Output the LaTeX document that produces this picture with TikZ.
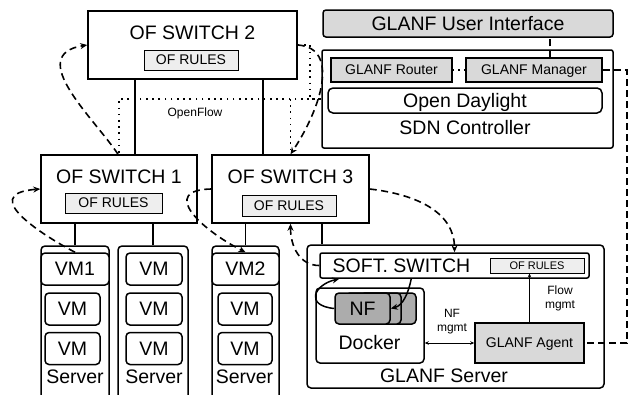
\documentclass[tikz,border=0pt]{standalone}
\usepackage{fontspec}
\setmainfont{Liberation Sans}
\usetikzlibrary{arrows.meta,positioning}

\definecolor{rulegray}{RGB}{238,238,238}
\definecolor{glanfgray}{RGB}{217,217,217}
\definecolor{nfgray}{RGB}{172,172,172}
\newcommand{\bigtxt}{\fontsize{19.5}{22}\selectfont}
\newcommand{\midtxt}{\fontsize{14}{16}\selectfont}
\newcommand{\smalltxt}{\fontsize{12}{14}\selectfont}
\newcommand{\tinytxt}{\fontsize{11}{12}\selectfont}

\begin{document}
\begin{tikzpicture}[x=1pt, y=-1pt,
  label/.style={font=\bigtxt, inner sep=0pt, text depth=0pt},
  smalllabel/.style={font=\smalltxt, inner sep=0pt, text depth=0pt, align=center},
  swbox/.style={draw, line width=1.5pt, fill=white, inner sep=0pt},
  rulebox/.style={draw, line width=0.9pt, fill=rulegray, inner sep=0pt, font=\midtxt, text depth=0pt},
  srvbox/.style={draw, line width=1.5pt, rounded corners=4pt, inner sep=0pt},
  vmbox/.style={draw, line width=1.5pt, rounded corners=4pt, fill=white, inner sep=0pt, font=\bigtxt, text depth=0pt, minimum height=32},
  glbox/.style={draw, line width=1.5pt, fill=glanfgray, inner sep=0pt, font=\midtxt, text depth=0pt},
  nfbox/.style={draw, line width=1.5pt, rounded corners=4pt, fill=nfgray, inner sep=0pt, minimum width=55, minimum height=31, font=\bigtxt, text depth=0pt},
  link/.style={line width=1.5pt},
  ofline/.style={line width=1.6pt, dash pattern=on 1.6pt off 4.6pt},
  flowarr/.style={line width=1.6pt, dash pattern=on 7pt off 4.5pt, -{Stealth[length=7pt,width=6pt]}},
  loop/.style={line width=1.5pt, -{Stealth[length=7pt,width=6pt]}},
  mgmtline/.style={line width=1.5pt, dash pattern=on 7pt off 4pt},
  thinboth/.style={line width=0.7pt, {Stealth[length=4pt,width=3.5pt]}-{Stealth[length=4pt,width=3.5pt]}},
  thinone/.style={line width=0.7pt, -{Stealth[length=4pt,width=3.5pt]}}
]
\useasboundingbox (0,0) rectangle (631,394);

% OpenFlow switches
\node[swbox, minimum width=209, minimum height=68] (sw2) at (192.5,45) {};
\node[label] (sw2t) at (192.5,32.5) {OF SWITCH 2};
\node[rulebox, minimum width=94, minimum height=20] (sw2r) at (191,60) {OF RULES};

\node[swbox, minimum width=156, minimum height=68] (sw1) at (119,189) {};
\node[label] (sw1t) at (119,177) {OF SWITCH 1};
\node[rulebox, minimum width=97, minimum height=20] (sw1r) at (113.5,203) {OF RULES};

\node[swbox, minimum width=157, minimum height=68] (sw3) at (290.5,189) {};
\node[label] (sw3t) at (290.5,177) {OF SWITCH 3};
\node[rulebox, minimum width=94, minimum height=21] (sw3r) at (289,205.5) {OF RULES};

% servers with VMs
\node[srvbox, minimum width=68, minimum height=156] (srv1) at (75,324) {};
\node[vmbox, minimum width=68] (vm1) at (75,269) {VM1};
\node[vmbox, minimum width=55] (vm1b) at (72.5,309) {VM};
\node[vmbox, minimum width=55] (vm1c) at (72.5,348.5) {VM};
\node[label] (srv1t) at (75,376.5) {Server};

\node[srvbox, minimum width=70, minimum height=156] (srv2) at (153,324) {};
\node[vmbox, minimum width=56] (vm3a) at (154,269) {VM};
\node[vmbox, minimum width=56] (vm3b) at (154,309) {VM};
\node[vmbox, minimum width=56] (vm3c) at (154,348.5) {VM};
\node[label] (srv2t) at (154,376.5) {Server};

\node[srvbox, minimum width=67, minimum height=156] (srv3) at (245.5,324) {};
\node[vmbox, minimum width=67] (vm2) at (245.5,269) {VM2};
\node[vmbox, minimum width=54] (vm2b) at (245,309) {VM};
\node[vmbox, minimum width=54] (vm2c) at (245,348.5) {VM};
\node[label] (srv3t) at (244.5,376.5) {Server};

% controller
\node[draw, line width=1.5pt, rounded corners=3pt, fill=glanfgray, font=\bigtxt, text depth=0pt, inner sep=0pt,
      minimum width=290, minimum height=27] (ui) at (468,23.5) {GLANF User Interface};
\node[draw, line width=1.5pt, rounded corners=2pt, inner sep=0pt, minimum width=291, minimum height=98] (sdn) at (467.5,99) {};
\node[glbox, minimum width=121, minimum height=24] (rtr) at (391.5,70) {GLANF Router};
\node[glbox, minimum width=136, minimum height=24] (mgr) at (534,70) {GLANF Manager};
\node[draw, line width=1.5pt, rounded corners=5pt, font=\bigtxt, text depth=0pt, inner sep=0pt,
      minimum width=274, minimum height=25] (odl) at (465,100.5) {Open Daylight};
\node[label] (sdnt) at (465,127.5) {SDN Controller};

% GLANF server
\node[srvbox, minimum width=297, minimum height=143] (gsrv) at (455.5,316.5) {};
\node[label] (gsrvt) at (444,375.5) {GLANF Server};
\node[draw, line width=1.5pt, rounded corners=2pt, inner sep=0pt, minimum width=269, minimum height=25] (softsw) at (454.5,265.5) {};
\node[label] (softswt) at (401.5,266) {SOFT. SWITCH};
\node[rulebox, font=\tinytxt, minimum width=94, minimum height=15] (ssrules) at (537,265.5) {OF RULES};
\node[srvbox, minimum width=108, minimum height=75] (docker) at (370,325.5) {};
\node[label] (dockert) at (369.5,342.5) {Docker};
\node[nfbox] (nf3) at (388.5,308.5) {};
\node[nfbox] (nf2) at (373.5,308.5) {};
\node[nfbox] (nf) at (362.5,308.5) {NF};
\node[glbox, minimum width=109, minimum height=40] (agent) at (529.5,343) {GLANF Agent};

% physical links
\draw[link] (srv1.north) -- (srv1.north |- sw1.south);
\draw[link] (srv2.north) -- (srv2.north |- sw1.south);
\draw[link] (srv3.north) -- (srv3.north |- sw3.south);
\draw[link] ([xshift=16pt]sw1.north) -- ([xshift=16pt]sw1.north |- sw2.south);
\draw[link] ([xshift=-27.5pt]sw3.north) -- ([xshift=-27.5pt]sw3.north |- sw2.south);
\draw[link] ([xshift=31.5pt]sw3.south) -- ([xshift=31.5pt]sw3.south |- gsrv.north);

% OpenFlow control channel
\draw[ofline] (sdn.west) -| (sw1.north);
\draw[ofline] (sw2.east) -- ++(12,0) |- (sdn.west);
\draw[ofline] (sw3.north |- sdn.west) -- (sw3.north);
\node[smalllabel] (oft) at (195,112) {OpenFlow};

% controller links
\draw[line width=1.5pt, dash pattern=on 1.5pt off 4pt] (rtr) -- (mgr);
\draw[mgmtline] ([xshift=16pt]mgr.north) -- ([xshift=16pt]mgr.north |- ui.south);
\draw[mgmtline] (mgr.east) -- ++(24,0) |- (agent.east);

% management inside GLANF server
\draw[thinboth] (docker.east |- agent.west) -- (agent.west);
\draw[thinone] (agent.north) -- (agent.north |- ssrules.south);
\node[smalllabel] (nfmt) at (452,320.5) {NF\\mgmt};
\node[smalllabel] (flmt) at (560,297.5) {Flow\\mgmt};

% packet path
\draw[flowarr] (vm1.north) .. controls +(-25,-13) and +(-66,5) .. (sw1.west);
\draw[flowarr] ([xshift=-1pt]sw1.north) .. controls +(-23,-35) and +(-63,10) .. (sw2.west);
\draw[flowarr] (sw2.east) .. controls +(43,3) and +(30,-45) .. (sw3.north);
\draw[flowarr] (sw3.west) .. controls +(-52,1) and +(-45,-23) .. (vm2.north);
\draw[flowarr] (sw3.east) .. controls +(51,6) and +(0,-38) .. (softsw.north);
\draw[flowarr] (softsw.west) .. controls +(-20,0) and +(0,22) .. (sw3.south);
\draw[loop] (nf.west) .. controls +(-30,-3) and +(-25,6) .. ([xshift=20pt]softsw.south west);
\draw[loop] ([xshift=92pt]softsw.south west) .. controls +(-3,15) and +(12,-3) .. (nf.east);
\end{tikzpicture}
\end{document}
